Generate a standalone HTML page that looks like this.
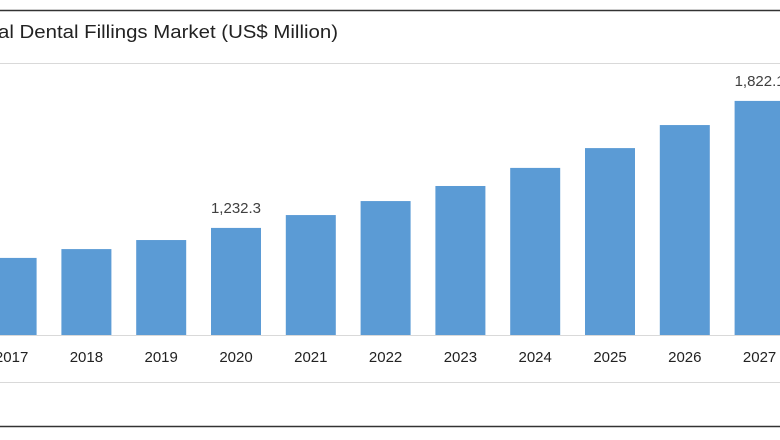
<!DOCTYPE html>
<html><head><meta charset="utf-8"><style>
html,body{margin:0;padding:0;background:#fff;}
svg{display:block;font-family:"Liberation Sans",sans-serif;}
</style></head><body>
<svg width="780" height="440">
<rect x="0" y="0" width="780" height="440" fill="#fff"/>
<line x1="0" y1="10.5" x2="780" y2="10.5" stroke="#333" stroke-width="1.5"/>
<line x1="0" y1="426.5" x2="780" y2="426.5" stroke="#333" stroke-width="1.5"/>
<line x1="0" y1="63.5" x2="780" y2="63.5" stroke="#d9d9d9"/>
<line x1="0" y1="382.5" x2="780" y2="382.5" stroke="#d9d9d9"/>
<text x="-2" y="38" font-size="18" fill="#222" textLength="340" lengthAdjust="spacingAndGlyphs">al Dental Fillings Market (US$ Million)</text>
<line x1="0" y1="335.5" x2="780" y2="335.5" stroke="#d9d9d9"/>
<g id="bars"></g>
</svg>
<script>
const categories=["2017","2018","2019","2020","2021","2022","2023","2024","2025","2026","2027"];
const values=[1093,1134,1176,1232.3,1292,1357,1427,1511,1603,1710,1822.1];
const valueLabels=["","","","1,232.3","","","","","","","1,822.1"];
const base=735, upp=4.644, baseY=335, x0=11.6, step=74.8, bw=50;
function xc(i){return x0+i*step;}
function y(v){return baseY-(v-base)/upp;}
const g=document.getElementById('bars');
const NS="http://www.w3.org/2000/svg";
categories.forEach((c,i)=>{
  const r=document.createElementNS(NS,'rect');
  r.setAttribute('x',xc(i)-bw/2);r.setAttribute('y',y(values[i]));
  r.setAttribute('width',bw);r.setAttribute('height',baseY-y(values[i]));
  r.setAttribute('fill','#5b9bd5');
  
  
  g.appendChild(r);
  const t=document.createElementNS(NS,'text');
  t.setAttribute('x',xc(i));t.setAttribute('y',362);t.setAttribute('text-anchor','middle');
  t.setAttribute('font-size','15');t.setAttribute('fill','#222');t.textContent=c;
  
  
  g.appendChild(t);
  if(valueLabels[i]){
    const l=document.createElementNS(NS,'text');
    l.setAttribute('x',xc(i));l.setAttribute('y',y(values[i])-15);l.setAttribute('text-anchor','middle');
    l.setAttribute('font-size','15');l.setAttribute('fill','#404040');l.textContent=valueLabels[i];
    
    
    g.appendChild(l);
  }
});
</script>
</body></html>
